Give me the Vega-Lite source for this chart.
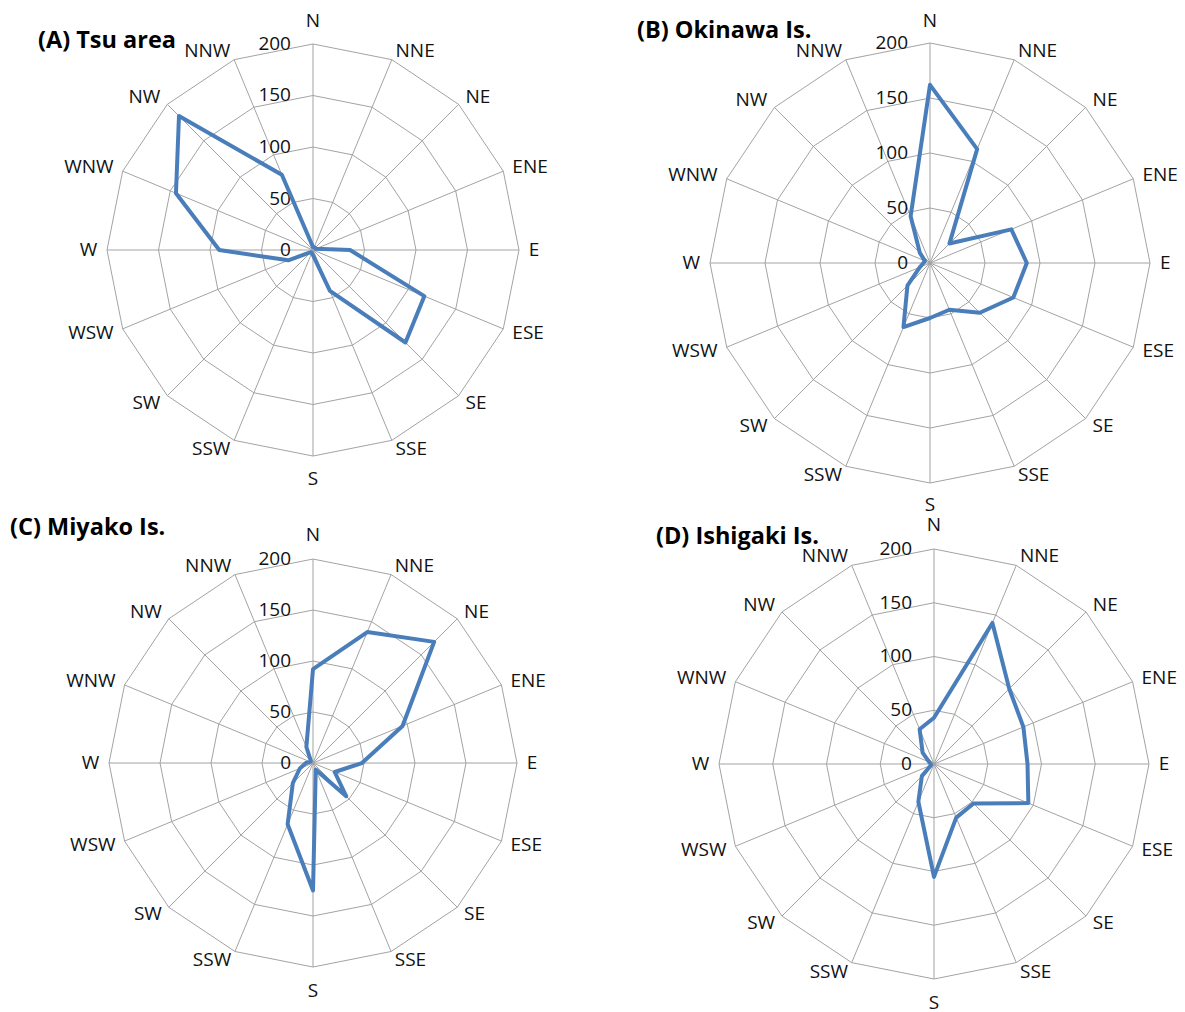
{
  "$schema": "https://vega.github.io/schema/vega-lite/v6.json",
  "padding": 0,
  "background": "white",
  "config": {"view": {"stroke": null}},
  "datasets": {
    "dirs": [
      {"dir": "N", "i": 0}, {"dir": "NNE", "i": 1}, {"dir": "NE", "i": 2}, {"dir": "ENE", "i": 3},
      {"dir": "E", "i": 4}, {"dir": "ESE", "i": 5}, {"dir": "SE", "i": 6}, {"dir": "SSE", "i": 7},
      {"dir": "S", "i": 8}, {"dir": "SSW", "i": 9}, {"dir": "SW", "i": 10}, {"dir": "WSW", "i": 11},
      {"dir": "W", "i": 12}, {"dir": "WNW", "i": 13}, {"dir": "NW", "i": 14}, {"dir": "NNW", "i": 15}
    ],
    "wind": [
      {"site": "Tsu area", "dir": "N", "count": 3}, {"site": "Tsu area", "dir": "NNE", "count": 3},
      {"site": "Tsu area", "dir": "NE", "count": 3}, {"site": "Tsu area", "dir": "ENE", "count": 3},
      {"site": "Tsu area", "dir": "E", "count": 36}, {"site": "Tsu area", "dir": "ESE", "count": 117},
      {"site": "Tsu area", "dir": "SE", "count": 127}, {"site": "Tsu area", "dir": "SSE", "count": 43},
      {"site": "Tsu area", "dir": "S", "count": 5}, {"site": "Tsu area", "dir": "SSW", "count": 3},
      {"site": "Tsu area", "dir": "SW", "count": 3}, {"site": "Tsu area", "dir": "WSW", "count": 26},
      {"site": "Tsu area", "dir": "W", "count": 91}, {"site": "Tsu area", "dir": "WNW", "count": 144},
      {"site": "Tsu area", "dir": "NW", "count": 184}, {"site": "Tsu area", "dir": "NNW", "count": 79},

      {"site": "Okinawa Is.", "dir": "N", "count": 162}, {"site": "Okinawa Is.", "dir": "NNE", "count": 112},
      {"site": "Okinawa Is.", "dir": "NE", "count": 25}, {"site": "Okinawa Is.", "dir": "ENE", "count": 80},
      {"site": "Okinawa Is.", "dir": "E", "count": 88}, {"site": "Okinawa Is.", "dir": "ESE", "count": 82},
      {"site": "Okinawa Is.", "dir": "SE", "count": 64}, {"site": "Okinawa Is.", "dir": "SSE", "count": 46},
      {"site": "Okinawa Is.", "dir": "S", "count": 50}, {"site": "Okinawa Is.", "dir": "SSW", "count": 63},
      {"site": "Okinawa Is.", "dir": "SW", "count": 29}, {"site": "Okinawa Is.", "dir": "WSW", "count": 10},
      {"site": "Okinawa Is.", "dir": "W", "count": 6}, {"site": "Okinawa Is.", "dir": "WNW", "count": 5},
      {"site": "Okinawa Is.", "dir": "NW", "count": 13}, {"site": "Okinawa Is.", "dir": "NNW", "count": 46},

      {"site": "Miyako Is.", "dir": "N", "count": 92}, {"site": "Miyako Is.", "dir": "NNE", "count": 139},
      {"site": "Miyako Is.", "dir": "NE", "count": 168}, {"site": "Miyako Is.", "dir": "ENE", "count": 95},
      {"site": "Miyako Is.", "dir": "E", "count": 48}, {"site": "Miyako Is.", "dir": "ESE", "count": 23},
      {"site": "Miyako Is.", "dir": "SE", "count": 46}, {"site": "Miyako Is.", "dir": "SSE", "count": 7},
      {"site": "Miyako Is.", "dir": "S", "count": 125}, {"site": "Miyako Is.", "dir": "SSW", "count": 65},
      {"site": "Miyako Is.", "dir": "SW", "count": 28}, {"site": "Miyako Is.", "dir": "WSW", "count": 14},
      {"site": "Miyako Is.", "dir": "W", "count": 7}, {"site": "Miyako Is.", "dir": "WNW", "count": 3},
      {"site": "Miyako Is.", "dir": "NW", "count": 3}, {"site": "Miyako Is.", "dir": "NNW", "count": 17},

      {"site": "Ishigaki Is.", "dir": "N", "count": 43}, {"site": "Ishigaki Is.", "dir": "NNE", "count": 142},
      {"site": "Ishigaki Is.", "dir": "NE", "count": 99}, {"site": "Ishigaki Is.", "dir": "ENE", "count": 90},
      {"site": "Ishigaki Is.", "dir": "E", "count": 87}, {"site": "Ishigaki Is.", "dir": "ESE", "count": 95},
      {"site": "Ishigaki Is.", "dir": "SE", "count": 52}, {"site": "Ishigaki Is.", "dir": "SSE", "count": 54},
      {"site": "Ishigaki Is.", "dir": "S", "count": 105}, {"site": "Ishigaki Is.", "dir": "SSW", "count": 38},
      {"site": "Ishigaki Is.", "dir": "SW", "count": 16}, {"site": "Ishigaki Is.", "dir": "WSW", "count": 3},
      {"site": "Ishigaki Is.", "dir": "W", "count": 3}, {"site": "Ishigaki Is.", "dir": "WNW", "count": 5},
      {"site": "Ishigaki Is.", "dir": "NW", "count": 15}, {"site": "Ishigaki Is.", "dir": "NNW", "count": 35}
    ]
  },
  "columns": 2,
  "spacing": 0,
  "bounds": "flush",
  "concat": [
    {
      "width": 620, "height": 506,
      "title": {"text": "(A) Tsu area", "anchor": "start", "frame": "group", "orient": "top", "offset": 0, "baseline": "middle", "dx": 38, "dy": 64, "font": "Open Sans", "fontSize": 23.5, "fontWeight": "bold", "color": "#000000"},
      "encoding": {
        "x": {"field": "px", "type": "quantitative", "scale": {"domain": [-303.9, 298.1], "nice": false, "zero": false}, "axis": null},
        "y": {"field": "py", "type": "quantitative", "scale": {"domain": [-248.5, 242.7], "nice": false, "zero": false}, "axis": null}
      },
      "layer": [
        {"data": {"name": "dirs"}, "transform": [{"calculate": "[50, 100, 150, 200]", "as": "level"}, {"flatten": ["level"]}, {"calculate": "datum.level * sin(datum.i * PI / 8)", "as": "px"}, {"calculate": "datum.level * cos(datum.i * PI / 8)", "as": "py"}],
         "mark": {"type": "line", "interpolate": "linear-closed", "stroke": "#a3a3a3", "strokeWidth": 1},
         "encoding": {"detail": {"field": "level", "type": "nominal"}, "order": {"field": "i", "type": "quantitative"}}},
        {"data": {"name": "dirs"}, "transform": [{"calculate": "0", "as": "px"}, {"calculate": "0", "as": "py"}, {"calculate": "200 * sin(datum.i * PI / 8)", "as": "ex"}, {"calculate": "200 * cos(datum.i * PI / 8)", "as": "ey"}],
         "mark": {"type": "rule", "stroke": "#a3a3a3", "strokeWidth": 1},
         "encoding": {"x2": {"field": "ex"}, "y2": {"field": "ey"}}},
        {"data": {"values": [{"v": 0}, {"v": 50}, {"v": 100}, {"v": 150}, {"v": 200}]}, "transform": [{"calculate": "0", "as": "px"}, {"calculate": "datum.v", "as": "py"}],
         "mark": {"type": "text", "align": "right", "baseline": "middle", "dx": -22, "font": "Open Sans", "fontSize": 19, "fill": "#111111"},
         "encoding": {"text": {"field": "v", "type": "quantitative"}}},
        {"data": {"name": "dirs"}, "transform": [{"filter": "datum.i >= 1 && datum.i <= 7"}, {"calculate": "209.5 * sin(datum.i * PI / 8)", "as": "px"}, {"calculate": "209.5 * cos(datum.i * PI / 8)", "as": "py"}],
         "mark": {"type": "text", "align": "left", "baseline": "middle", "font": "Open Sans", "fontSize": 19, "fill": "#111111"},
         "encoding": {"text": {"field": "dir"}}},
        {"data": {"name": "dirs"}, "transform": [{"filter": "datum.i >= 9"}, {"calculate": "209.5 * sin(datum.i * PI / 8)", "as": "px"}, {"calculate": "209.5 * cos(datum.i * PI / 8)", "as": "py"}],
         "mark": {"type": "text", "align": "right", "baseline": "middle", "font": "Open Sans", "fontSize": 19, "fill": "#111111"},
         "encoding": {"text": {"field": "dir"}}},
        {"data": {"name": "dirs"}, "transform": [{"filter": "datum.i == 0 || datum.i == 8"}, {"calculate": "222 * sin(datum.i * PI / 8)", "as": "px"}, {"calculate": "222 * cos(datum.i * PI / 8)", "as": "py"}],
         "mark": {"type": "text", "align": "center", "baseline": "middle", "font": "Open Sans", "fontSize": 19, "fill": "#111111"},
         "encoding": {"text": {"field": "dir"}}},
        {"data": {"name": "wind"}, "transform": [{"filter": "datum.site === 'Tsu area'"}, {"lookup": "dir", "from": {"data": {"name": "dirs"}, "key": "dir", "fields": ["i"]}}, {"calculate": "datum.count * sin(datum.i * PI / 8)", "as": "px"}, {"calculate": "datum.count * cos(datum.i * PI / 8)", "as": "py"}],
         "mark": {"type": "line", "interpolate": "linear-closed", "stroke": "#4a7ebb", "strokeWidth": 4, "strokeJoin": "round"},
         "encoding": {"order": {"field": "i", "type": "quantitative"}}}
      ]
    },
    {
      "width": 565, "height": 506,
      "title": {"text": "(B) Okinawa Is.", "anchor": "start", "frame": "group", "orient": "top", "offset": 0, "baseline": "middle", "dx": 17, "dy": 54, "font": "Open Sans", "fontSize": 23.5, "fontWeight": "bold", "color": "#000000"},
      "encoding": {
        "x": {"field": "px", "type": "quantitative", "scale": {"domain": [-281.8, 231.8], "nice": false, "zero": false}, "axis": null},
        "y": {"field": "py", "type": "quantitative", "scale": {"domain": [-220.9, 239.1], "nice": false, "zero": false}, "axis": null}
      },
      "layer": [
        {"data": {"name": "dirs"}, "transform": [{"calculate": "[50, 100, 150, 200]", "as": "level"}, {"flatten": ["level"]}, {"calculate": "datum.level * sin(datum.i * PI / 8)", "as": "px"}, {"calculate": "datum.level * cos(datum.i * PI / 8)", "as": "py"}],
         "mark": {"type": "line", "interpolate": "linear-closed", "stroke": "#a3a3a3", "strokeWidth": 1},
         "encoding": {"detail": {"field": "level", "type": "nominal"}, "order": {"field": "i", "type": "quantitative"}}},
        {"data": {"name": "dirs"}, "transform": [{"calculate": "0", "as": "px"}, {"calculate": "0", "as": "py"}, {"calculate": "200 * sin(datum.i * PI / 8)", "as": "ex"}, {"calculate": "200 * cos(datum.i * PI / 8)", "as": "ey"}],
         "mark": {"type": "rule", "stroke": "#a3a3a3", "strokeWidth": 1},
         "encoding": {"x2": {"field": "ex"}, "y2": {"field": "ey"}}},
        {"data": {"values": [{"v": 0}, {"v": 50}, {"v": 100}, {"v": 150}, {"v": 200}]}, "transform": [{"calculate": "0", "as": "px"}, {"calculate": "datum.v", "as": "py"}],
         "mark": {"type": "text", "align": "right", "baseline": "middle", "dx": -22, "font": "Open Sans", "fontSize": 19, "fill": "#111111"},
         "encoding": {"text": {"field": "v", "type": "quantitative"}}},
        {"data": {"name": "dirs"}, "transform": [{"filter": "datum.i >= 1 && datum.i <= 7"}, {"calculate": "209 * sin(datum.i * PI / 8)", "as": "px"}, {"calculate": "209 * cos(datum.i * PI / 8)", "as": "py"}],
         "mark": {"type": "text", "align": "left", "baseline": "middle", "font": "Open Sans", "fontSize": 19, "fill": "#111111"},
         "encoding": {"text": {"field": "dir"}}},
        {"data": {"name": "dirs"}, "transform": [{"filter": "datum.i >= 9"}, {"calculate": "209 * sin(datum.i * PI / 8)", "as": "px"}, {"calculate": "209 * cos(datum.i * PI / 8)", "as": "py"}],
         "mark": {"type": "text", "align": "right", "baseline": "middle", "font": "Open Sans", "fontSize": 19, "fill": "#111111"},
         "encoding": {"text": {"field": "dir"}}},
        {"data": {"name": "dirs"}, "transform": [{"filter": "datum.i == 0 || datum.i == 8"}, {"calculate": "220 * sin(datum.i * PI / 8)", "as": "px"}, {"calculate": "220 * cos(datum.i * PI / 8)", "as": "py"}],
         "mark": {"type": "text", "align": "center", "baseline": "middle", "font": "Open Sans", "fontSize": 19, "fill": "#111111"},
         "encoding": {"text": {"field": "dir"}}},
        {"data": {"name": "wind"}, "transform": [{"filter": "datum.site === 'Okinawa Is.'"}, {"lookup": "dir", "from": {"data": {"name": "dirs"}, "key": "dir", "fields": ["i"]}}, {"calculate": "datum.count * sin(datum.i * PI / 8)", "as": "px"}, {"calculate": "datum.count * cos(datum.i * PI / 8)", "as": "py"}],
         "mark": {"type": "line", "interpolate": "linear-closed", "stroke": "#4a7ebb", "strokeWidth": 4, "strokeJoin": "round"},
         "encoding": {"order": {"field": "i", "type": "quantitative"}}}
      ]
    },
    {
      "width": 620, "height": 506,
      "title": {"text": "(C) Miyako Is.", "anchor": "start", "frame": "group", "orient": "top", "offset": 0, "baseline": "middle", "dx": 10, "dy": 45, "font": "Open Sans", "fontSize": 23.5, "fontWeight": "bold", "color": "#000000"},
      "encoding": {
        "x": {"field": "px", "type": "quantitative", "scale": {"domain": [-306.9, 301.0], "nice": false, "zero": false}, "axis": null},
        "y": {"field": "py", "type": "quantitative", "scale": {"domain": [-244.1, 252.0], "nice": false, "zero": false}, "axis": null}
      },
      "layer": [
        {"data": {"name": "dirs"}, "transform": [{"calculate": "[50, 100, 150, 200]", "as": "level"}, {"flatten": ["level"]}, {"calculate": "datum.level * sin(datum.i * PI / 8)", "as": "px"}, {"calculate": "datum.level * cos(datum.i * PI / 8)", "as": "py"}],
         "mark": {"type": "line", "interpolate": "linear-closed", "stroke": "#a3a3a3", "strokeWidth": 1},
         "encoding": {"detail": {"field": "level", "type": "nominal"}, "order": {"field": "i", "type": "quantitative"}}},
        {"data": {"name": "dirs"}, "transform": [{"calculate": "0", "as": "px"}, {"calculate": "0", "as": "py"}, {"calculate": "200 * sin(datum.i * PI / 8)", "as": "ex"}, {"calculate": "200 * cos(datum.i * PI / 8)", "as": "ey"}],
         "mark": {"type": "rule", "stroke": "#a3a3a3", "strokeWidth": 1},
         "encoding": {"x2": {"field": "ex"}, "y2": {"field": "ey"}}},
        {"data": {"values": [{"v": 0}, {"v": 50}, {"v": 100}, {"v": 150}, {"v": 200}]}, "transform": [{"calculate": "0", "as": "px"}, {"calculate": "datum.v", "as": "py"}],
         "mark": {"type": "text", "align": "right", "baseline": "middle", "dx": -22, "font": "Open Sans", "fontSize": 19, "fill": "#111111"},
         "encoding": {"text": {"field": "v", "type": "quantitative"}}},
        {"data": {"name": "dirs"}, "transform": [{"filter": "datum.i >= 1 && datum.i <= 7"}, {"calculate": "209.5 * sin(datum.i * PI / 8)", "as": "px"}, {"calculate": "209.5 * cos(datum.i * PI / 8)", "as": "py"}],
         "mark": {"type": "text", "align": "left", "baseline": "middle", "font": "Open Sans", "fontSize": 19, "fill": "#111111"},
         "encoding": {"text": {"field": "dir"}}},
        {"data": {"name": "dirs"}, "transform": [{"filter": "datum.i >= 9"}, {"calculate": "209.5 * sin(datum.i * PI / 8)", "as": "px"}, {"calculate": "209.5 * cos(datum.i * PI / 8)", "as": "py"}],
         "mark": {"type": "text", "align": "right", "baseline": "middle", "font": "Open Sans", "fontSize": 19, "fill": "#111111"},
         "encoding": {"text": {"field": "dir"}}},
        {"data": {"name": "dirs"}, "transform": [{"filter": "datum.i == 0 || datum.i == 8"}, {"calculate": "224 * sin(datum.i * PI / 8)", "as": "px"}, {"calculate": "224 * cos(datum.i * PI / 8)", "as": "py"}],
         "mark": {"type": "text", "align": "center", "baseline": "middle", "font": "Open Sans", "fontSize": 19, "fill": "#111111"},
         "encoding": {"text": {"field": "dir"}}},
        {"data": {"name": "wind"}, "transform": [{"filter": "datum.site === 'Miyako Is.'"}, {"lookup": "dir", "from": {"data": {"name": "dirs"}, "key": "dir", "fields": ["i"]}}, {"calculate": "datum.count * sin(datum.i * PI / 8)", "as": "px"}, {"calculate": "datum.count * cos(datum.i * PI / 8)", "as": "py"}],
         "mark": {"type": "line", "interpolate": "linear-closed", "stroke": "#4a7ebb", "strokeWidth": 4, "strokeJoin": "round"},
         "encoding": {"order": {"field": "i", "type": "quantitative"}}}
      ]
    },
    {
      "width": 565, "height": 506,
      "title": {"text": "(D) Ishigaki Is.", "anchor": "start", "frame": "group", "orient": "top", "offset": 0, "baseline": "middle", "dx": 36, "dy": 54, "font": "Open Sans", "fontSize": 23.5, "fontWeight": "bold", "color": "#000000"},
      "encoding": {
        "x": {"field": "px", "type": "quantitative", "scale": {"domain": [-292.1, 233.5], "nice": false, "zero": false}, "axis": null},
        "y": {"field": "py", "type": "quantitative", "scale": {"domain": [-230.7, 240.0], "nice": false, "zero": false}, "axis": null}
      },
      "layer": [
        {"data": {"name": "dirs"}, "transform": [{"calculate": "[50, 100, 150, 200]", "as": "level"}, {"flatten": ["level"]}, {"calculate": "datum.level * sin(datum.i * PI / 8)", "as": "px"}, {"calculate": "datum.level * cos(datum.i * PI / 8)", "as": "py"}],
         "mark": {"type": "line", "interpolate": "linear-closed", "stroke": "#a3a3a3", "strokeWidth": 1},
         "encoding": {"detail": {"field": "level", "type": "nominal"}, "order": {"field": "i", "type": "quantitative"}}},
        {"data": {"name": "dirs"}, "transform": [{"calculate": "0", "as": "px"}, {"calculate": "0", "as": "py"}, {"calculate": "200 * sin(datum.i * PI / 8)", "as": "ex"}, {"calculate": "200 * cos(datum.i * PI / 8)", "as": "ey"}],
         "mark": {"type": "rule", "stroke": "#a3a3a3", "strokeWidth": 1},
         "encoding": {"x2": {"field": "ex"}, "y2": {"field": "ey"}}},
        {"data": {"values": [{"v": 0}, {"v": 50}, {"v": 100}, {"v": 150}, {"v": 200}]}, "transform": [{"calculate": "0", "as": "px"}, {"calculate": "datum.v", "as": "py"}],
         "mark": {"type": "text", "align": "right", "baseline": "middle", "dx": -22, "font": "Open Sans", "fontSize": 19, "fill": "#111111"},
         "encoding": {"text": {"field": "v", "type": "quantitative"}}},
        {"data": {"name": "dirs"}, "transform": [{"filter": "datum.i >= 1 && datum.i <= 7"}, {"calculate": "209 * sin(datum.i * PI / 8)", "as": "px"}, {"calculate": "209 * cos(datum.i * PI / 8)", "as": "py"}],
         "mark": {"type": "text", "align": "left", "baseline": "middle", "font": "Open Sans", "fontSize": 19, "fill": "#111111"},
         "encoding": {"text": {"field": "dir"}}},
        {"data": {"name": "dirs"}, "transform": [{"filter": "datum.i >= 9"}, {"calculate": "209 * sin(datum.i * PI / 8)", "as": "px"}, {"calculate": "209 * cos(datum.i * PI / 8)", "as": "py"}],
         "mark": {"type": "text", "align": "right", "baseline": "middle", "font": "Open Sans", "fontSize": 19, "fill": "#111111"},
         "encoding": {"text": {"field": "dir"}}},
        {"data": {"name": "dirs"}, "transform": [{"filter": "datum.i == 0 || datum.i == 8"}, {"calculate": "222 * sin(datum.i * PI / 8)", "as": "px"}, {"calculate": "222 * cos(datum.i * PI / 8)", "as": "py"}],
         "mark": {"type": "text", "align": "center", "baseline": "middle", "font": "Open Sans", "fontSize": 19, "fill": "#111111"},
         "encoding": {"text": {"field": "dir"}}},
        {"data": {"name": "wind"}, "transform": [{"filter": "datum.site === 'Ishigaki Is.'"}, {"lookup": "dir", "from": {"data": {"name": "dirs"}, "key": "dir", "fields": ["i"]}}, {"calculate": "datum.count * sin(datum.i * PI / 8)", "as": "px"}, {"calculate": "datum.count * cos(datum.i * PI / 8)", "as": "py"}],
         "mark": {"type": "line", "interpolate": "linear-closed", "stroke": "#4a7ebb", "strokeWidth": 4, "strokeJoin": "round"},
         "encoding": {"order": {"field": "i", "type": "quantitative"}}}
      ]
    }
  ]
}
